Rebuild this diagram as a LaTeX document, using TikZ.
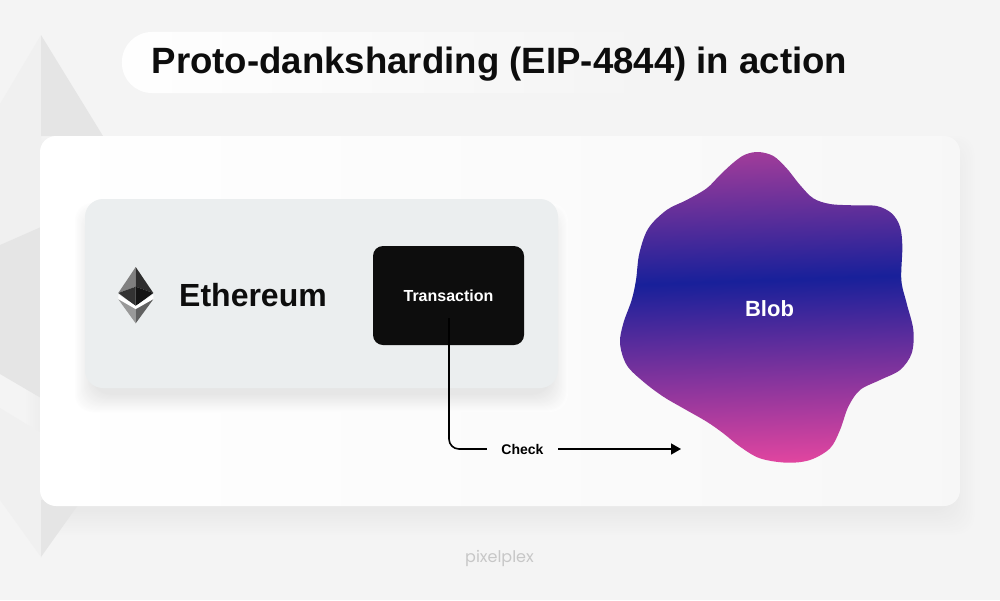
\documentclass[tikz,border=0pt]{standalone}
\usepackage{fontspec}
\setmainfont{Liberation Sans}
\newfontfamily\logofont{Poppins}
\usetikzlibrary{positioning,arrows.meta,fadings}

\definecolor{pagegrey}{HTML}{F4F4F4}
\definecolor{cardgrey}{HTML}{EBEEEF}
\definecolor{txblack}{HTML}{0D0D0D}
\definecolor{blobpink}{HTML}{E0459F}
\definecolor{blobblue}{HTML}{18209A}
\definecolor{blobtop}{HTML}{A03C9A}
\pgfdeclareverticalshading{blobgrad}{100bp}{
  color(0bp)=(blobpink);color(25bp)=(blobpink);
  color(54.4bp)=(blobblue);
  color(75bp)=(blobtop);color(100bp)=(blobtop)}
\tikzfading[name=pillfade,left color=transparent!0,right color=transparent!100]

\begin{document}
\begin{tikzpicture}[x=1pt,y=-1pt,
    softshadow/.style={fill=#1,rounded corners=18pt},
    lbl/.style={inner sep=0pt,anchor=base},
    wire/.style={line width=1.6pt}]
    \useasboundingbox (0,0) rectangle (1000,600);
    \fill[pagegrey] (0,0) rectangle (1000,600);

    % main card shadow
    \foreach \i in {16,15,...,-10} {
        \pgfmathsetmacro\shadepct{100-(16-\i)*4.5/26}
        \fill[softshadow={pagegrey!\shadepct!black}] (40-\i,136-\i+14) rectangle (960+\i,506+\i+14);
    }

    % big faded logo
    \fill[black!6] (41,35) -- (0,104) -- (0,245) -- (41,227) -- cycle;
    \fill[black!10] (41,35) -- (103,136) -- (41,136) -- cycle;
    \fill[black!10] (0,245) -- (41,227) -- (41,398) -- (0,374) -- cycle;
    \fill[black!6] (0,408) -- (41,433) -- (41,557) -- (0,500) -- cycle;
    \fill[black!10] (41,500) -- (78,505) -- (41,557) -- cycle;

    % main card
    \shade[left color=white,right color=white!97!black,rounded corners=16pt]
        (40,136) rectangle (960,506);

    % title
    \fill[white,path fading=pillfade,rounded corners=30pt] (122,32) rectangle (673,93);
    \node[lbl,font=\bfseries\fontsize{36.6}{40}\selectfont,text=txblack] (title) at (499.5,73.5) {Proto-danksharding (EIP-4844) in action};

    % ethereum panel
    \foreach \i in {10,9,...,-8} {
        \pgfmathsetmacro\shadepct{99.2-(10-\i)*9/18}
        \fill[softshadow={white!\shadepct!black}] (85-\i,199-\i+14) rectangle (558+\i,388+\i+14);
    }
    \fill[cardgrey,rounded corners=18pt] (85,199) rectangle (558,388);
    \fill[black!50] (135.7,267) -- (118.3,293) -- (135.7,286.7) -- cycle;
    \fill[black!82] (135.7,267) -- (153.3,293) -- (135.7,286.7) -- cycle;
    \fill[black!80] (118.3,293) -- (135.7,286.7) -- (135.7,306) -- cycle;
    \fill[black!92] (153.3,293) -- (135.7,286.7) -- (135.7,306) -- cycle;
    \fill[white] (118.3,294.5) -- (135.7,306) -- (153.3,294.5) -- (153.3,299.3) -- (135.7,309.3) -- (118.3,299.3) -- cycle;
    \fill[black!40] (118.3,299.3) -- (135.7,309.3) -- (135.7,323.3) -- cycle;
    \fill[black!62] (153.3,299.3) -- (135.7,309.3) -- (135.7,323.3) -- cycle;
    \node[lbl,font=\bfseries\fontsize{32}{36}\selectfont,text=txblack] (eth) at (253,306.5) {Ethereum};

    \node[fill=txblack,rounded corners=10pt,minimum width=151pt,minimum height=99pt,
        text=white,font=\bfseries\fontsize{16}{18}\selectfont,inner sep=0pt] (tx) at (448.5,295.5) {Transaction};

    % blob
    \begin{scope}[shift={(600,140)},scale=1/3]
        \shade[shading=blobgrad,shading angle=2] plot[smooth cycle,tension=0.55] coordinates {
            (400,68) (435,44) (475,36) (520,48) (560,85) (600,135) (640,175) (690,192)
            (760,196) (830,198) (875,220) (900,260) (907,320) (904,420) (920,490) (940,570)
            (935,640) (900,690) (840,720) (780,750) (745,800) (720,870) (690,925) (630,960)
            (560,968) (480,955) (420,920) (370,880) (320,845) (250,805) (190,770) (130,725)
            (80,675) (60,610) (70,550) (95,480) (108,420) (118,340) (145,265) (200,210)
            (260,180) (320,145) (360,105)};
    \end{scope}
    \node[lbl,font=\bfseries\fontsize{22}{26}\selectfont,text=white] (blob) at (769.5,316) {Blob};

    % connector
    \coordinate (txout) at (449,318);
    \coordinate (arrowend) at (681,449);
    \node[inner sep=0pt,minimum width=71pt,minimum height=14pt,font=\bfseries\fontsize{14}{15}\selectfont] (check) at (522.5,449) {Check};
    \draw[wire,rounded corners=10pt] (txout) |- (check.west);
    \draw[wire,-{Triangle[length=10pt,width=11pt]}] (check.east) -- (arrowend);

    \node[inner sep=0pt,font=\logofont\fontsize{16}{18}\selectfont,text=black!22] (logo) at (499.5,558) {pixelplex};
\end{tikzpicture}
\end{document}
